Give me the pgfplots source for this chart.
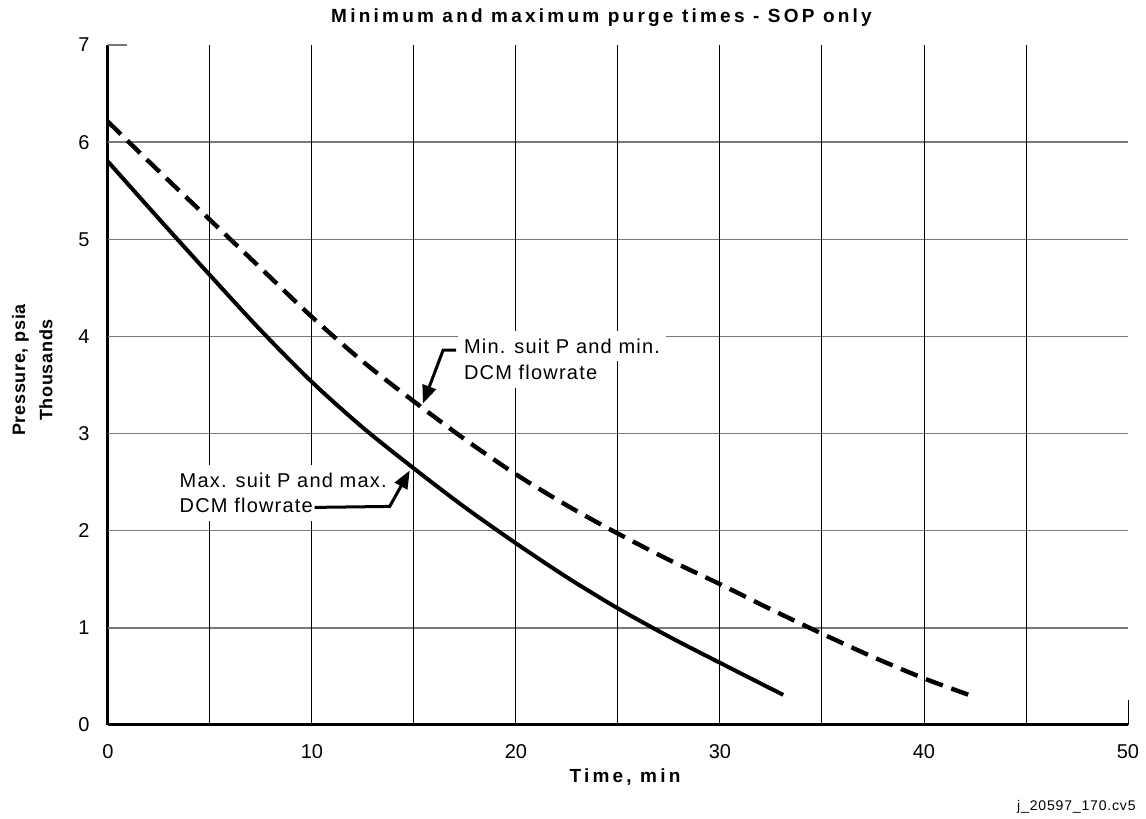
\documentclass[border=0pt]{standalone}
\usepackage{fontspec}
\setmainfont{Liberation Sans}
\newfontfamily\titlefont[LetterSpace=17]{Liberation Sans}
\newfontfamily\ylabfont[LetterSpace=4]{Liberation Sans}
\newfontfamily\spacedreg[LetterSpace=6]{Liberation Sans}
\usepackage{pgfplots}
\pgfplotsset{compat=1.18}
\usetikzlibrary{arrows.meta}
\definecolor{gridgray}{RGB}{120,120,120}
\begin{document}
\begin{tikzpicture}
\useasboundingbox (-54pt,-47pt) rectangle (519pt,362.5pt);
\begin{axis}[
  scale only axis, width=510pt, height=340pt,
  xmin=0, xmax=50, ymin=0, ymax=7,
  axis x line*=bottom, axis y line*=left,
  axis line style={line width=1.5pt},
  xtick={0,10,...,50}, ytick={0,1,...,7},
  major tick length=0pt,
  /pgf/number format/assume math mode=true,
  tick label style={font=\fontsize{10}{12}\selectfont},
  xticklabel style={anchor=center, yshift=-13.25pt},
  yticklabel style={anchor=center, xshift=-12pt},
  clip=false,
]
% grid
\pgfplotsinvokeforeach{1,2,...,6}{\draw[gridgray, line width=0.75pt] (axis cs:0,#1) -- (axis cs:50,#1);}
\draw[gridgray, line width=0.75pt] (axis cs:0,7) -- (axis cs:0.95,7);
\pgfplotsinvokeforeach{5,10,...,45}{\draw[black, line width=0.5pt] (axis cs:#1,0) -- (axis cs:#1,7);}
\draw[black, line width=0.5pt] (axis cs:50,0) -- (axis cs:50,0.26);
% annotation boxes
\node[fill=white, anchor=west, inner xsep=3pt, inner ysep=4pt, font=\spacedreg\fontsize{10}{12}\selectfont] at (axis cs:3.2,2.52) {Max. suit P and max.};
\node[fill=white, anchor=west, inner xsep=3pt, inner ysep=4pt, font=\spacedreg\fontsize{10}{12}\selectfont] at (axis cs:3.2,2.26) {DCM flowrate};
\node[fill=white, anchor=west, inner xsep=3pt, inner ysep=4pt, font=\spacedreg\fontsize{10}{12}\selectfont] at (axis cs:17.14,3.9) {Min. suit P and min.};
\node[fill=white, anchor=west, inner xsep=3pt, inner ysep=4pt, font=\spacedreg\fontsize{10}{12}\selectfont] at (axis cs:17.14,3.63) {DCM flowrate};
% curves
\addplot[black, line width=2pt, smooth, tension=0.5] coordinates {
(0,5.8) (2.5,5.21) (5,4.63) (7.5,4.06) (10,3.53) (12.5,3.06) (15,2.64) (17.5,2.24) (20,1.87) (22.5,1.52) (25,1.2) (27.5,0.91) (30,0.64) (33.1,0.31)};
\addplot[black, line width=2.2pt, smooth, tension=0.5, dash pattern=on 9pt off 4.5pt] coordinates {
(0,6.21) (2.5,5.7) (5,5.2) (7.5,4.7) (10,4.2) (12.5,3.74) (15,3.33) (17.5,2.94) (20,2.58) (22.5,2.26) (25,1.97) (27.5,1.7) (30,1.45) (32.5,1.19) (35,0.94) (37.5,0.7) (40,0.48) (42.2,0.31)};
% arrows
\draw[line width=1.5pt, -{Triangle[length=9pt,width=7pt]}] (axis cs:10.13,2.24) -- (axis cs:13.81,2.25) -- (axis cs:14.79,2.62);
\draw[line width=1.5pt, -{Triangle[length=9pt,width=7pt]}] (axis cs:17.06,3.86) -- (axis cs:16.43,3.86) -- (axis cs:15.44,3.31);
\end{axis}
\node[font=\titlefont\bfseries\fontsize{9.5}{11}\selectfont] at (246.75pt,353.5pt) {Minimum and maximum purge times - SOP only};
\node[font=\titlefont\bfseries\fontsize{9.5}{11}\selectfont] at (258.5pt,-26pt) {Time, min};
\node[rotate=90, font=\ylabfont\bfseries\fontsize{9}{11}\selectfont] at (-43.75pt,177.5pt) {Pressure, psia};
\node[rotate=90, font=\ylabfont\bfseries\fontsize{9}{11}\selectfont] at (-31pt,177.5pt) {Thousands};
\node[anchor=east, inner sep=0pt, font=\spacedreg\fontsize{7}{8}\selectfont] at (514pt,-41pt) {j\_20597\_170.cv5};
\end{tikzpicture}
\end{document}
